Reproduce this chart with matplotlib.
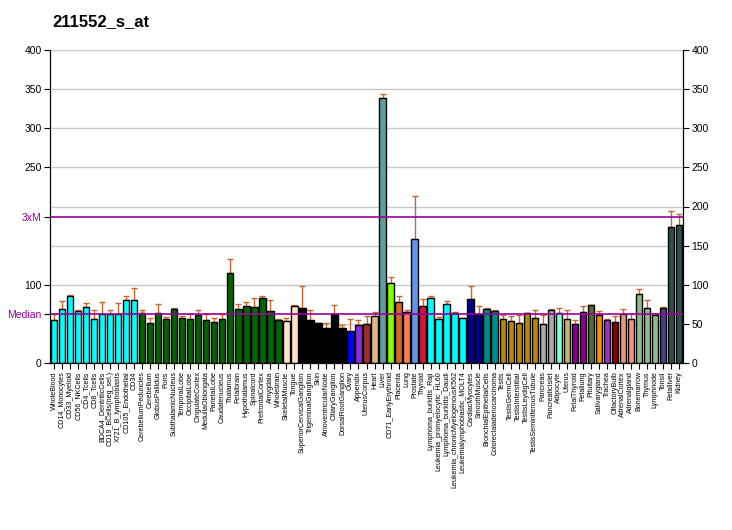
import matplotlib
matplotlib.use("Agg")
import matplotlib.pyplot as plt
from matplotlib import font_manager
import numpy as np

title = "211552_s_at"

labels = ["WholeBlood", "CD14_Monocytes", "CD33_Myeloid", "CD56_NKCells", "CD4_Tcells",
          "CD8_Tcells", "BDCA4_DentriticCells", "CD19_BCells(neg_sel.)", "X721_B_lymphoblasts",
          "CD105_Endothelial", "CD34", "CerebellumPeduncles", "Cerebellum", "GlobusPallidus",
          "Pons", "SubthalamicNucleus", "TemporalLobe", "OccipitalLobe", "CingulateCortex",
          "MedullaOblongata", "ParietalLobe", "Caudatenucleus", "Thalamus", "Fetalbrain",
          "Hypothalamus", "Spinalcord", "PrefrontalCortex", "Amygdala", "Wholebrain",
          "SkeletalMuscle", "Tongue", "SuperiorCervicalGanglion", "TrigeminalGanglion", "Skin",
          "AtrioventricularNode", "CiliaryGanglion", "DorsalRootGanglion", "Ovary", "Appendix",
          "UterusCorpus", "Heart", "Liver", "CD71_EarlyErythroid", "Placenta", "Lung",
          "Prostate", "Thyroid", "Lymphoma_burkitts_Raji", "Leukemia_promyelocytic_HL60",
          "Lymphoma_burkitts_Daudi", "Leukemia_chronicMyelogenousK562",
          "Leukemialymphoblastic_MOLT4", "CardiacMyocytes", "SmoothMuscle",
          "BronchialEpithelialCells", "Colorectaladenocarcinoma", "Testis", "TestisGermCell",
          "TestisInterstitial", "TestisLeydigCell", "TestisSeminiferousTubule", "Pancreas",
          "PancreaticIslet", "Adipocyte", "Uterus", "FetalThyroid", "Fetallung", "Pituitary",
          "Salivarygland", "Trachea", "OlfactoryBulb", "AdrenalCortex", "Adrenalgland",
          "Bonemarrow", "Thymus", "Lymphnode", "Tonsil", "Fetalliver", "Kidney"]

values = [54.5, 68.6, 85.6, 66.0, 71.2, 55.8, 62.2, 62.2, 62.2, 80.1, 80.1,
          63.5, 50.7, 63.5, 55.8, 68.6, 57.1, 55.8, 61.0, 54.5, 52.0, 55.8, 114.6, 68.6,
          72.4, 71.2, 82.7, 66.0, 54.5, 53.3, 72.4, 69.8, 54.5, 50.7, 44.3, 62.2, 44.3,
          40.5, 48.2, 49.4, 59.6, 338.3, 101.8, 77.5, 64.8, 158.0, 72.4, 82.7, 55.8, 75.0,
          63.5, 57.1, 81.4, 62.2, 68.6, 66.0, 55.8, 53.3, 50.7, 63.5, 57.1, 49.4, 67.3,
          63.5, 55.8, 49.4, 64.8, 73.7, 61.0, 54.5, 52.0, 62.2, 55.8, 87.8, 69.8, 61.0,
          69.8, 173.8, 176.0]

err_top = [62.0, 78.8, 86.5, 67.3, 76.3, 67.3, 77.5, 67.3, 76.3, 85.2, 95.4,
           67.3, 57.1, 75.0, 58.3, 69.8, 60.0, 62.0, 67.3, 62.0, 58.0, 62.0, 133.0, 75.0,
           77.5, 82.7, 85.2, 80.1, 55.8, 57.1, 73.7, 98.0, 67.3, 50.7, 50.7, 73.7, 48.2,
           55.8, 54.5, 59.6, 64.8, 343.4, 109.5, 85.2, 67.3, 214.0, 81.4, 85.2, 58.3, 78.8,
           64.8, 57.1, 98.0, 72.4, 69.8, 67.3, 61.0, 59.6, 61.0, 63.5, 67.3, 61.0, 68.6,
           69.8, 67.3, 54.5, 72.4, 73.7, 66.0, 55.8, 59.6, 68.6, 62.0, 94.2, 80.1, 63.5,
           71.2, 193.9, 190.0]

colors = (["#00FFFF"] * 11 + ["#006400"] * 18 + ["#FFE4C4"] * 2 + ["#000000"] * 6 +
          ["#0000FF", "#8A2BE2", "#A52A2A", "#DEB887", "#5F9EA0", "#7FFF00", "#D2691E",
           "#FF7F50", "#6495ED", "#DC143C"] + ["#00FFFF"] * 5 + ["#00008B"] * 2 +
          ["#008B8B"] * 2 + ["#B8860B"] * 5 + ["#A9A9A9"] * 2 +
          ["#7FFFD4", "#BDB76B", "#8B008B", "#8B008B", "#556B2F", "#FF8C00", "#9932CC",
           "#8B0000", "#E9967A", "#E9967A"] + ["#8FBC8F"] * 3 + ["#483D8B"] +
          ["#2F4F4F"] * 2)

median_val = 62.2
threexm_val = 3 * median_val

available = {f.name for f in font_manager.fontManager.ttflist}
if "Liberation Sans Narrow" in available:
    label_family, label_size = "Liberation Sans Narrow", 6.2
else:
    label_family, label_size = "Liberation Sans", 5.1

fig = plt.figure(figsize=(7.32, 5.30), dpi=100)
ax = fig.add_axes([50 / 732, 167 / 530, 633 / 732, 313 / 530])

x = np.arange(1, len(values) + 1)
vals = np.array(values)
errs = np.array(err_top) - vals
errs = np.clip(errs, 0, None)

for yv in range(50, 401, 50):
    ax.axhline(yv, color="#C8C8C8", lw=1, zorder=0)

ax.bar(x, vals, width=0.8, color=colors, edgecolor="black", linewidth=1, zorder=2)
ax.errorbar(x, vals, yerr=[np.zeros_like(errs), errs], fmt="none", ecolor="#C8662E",
            elinewidth=1, capsize=2.5, capthick=1, zorder=1)

ax.axhline(median_val, color="#990099", lw=1.2, zorder=3)
ax.axhline(threexm_val, color="#990099", lw=1.2, zorder=3)

ax.set_xlim(0.5, len(values) + 0.5)
ax.set_ylim(0, 400)
ax.set_xticks(x)
ax.set_xticklabels(labels, rotation=90, fontsize=label_size, family=label_family)
ax.tick_params(axis="x", length=4, pad=2)

lt = [0, median_val, 100, threexm_val, 250, 300, 350, 400]
ltl = ["0", "Median", "100", "3xM", "250", "300", "350", "400"]
ax.set_yticks(lt)
ax.set_yticklabels(ltl, fontsize=7.5, family="Liberation Sans")
for t, s in zip(ax.get_yticklabels(), ltl):
    if s in ("Median", "3xM"):
        t.set_color("#990099")
ax.tick_params(axis="y", length=4, pad=2)

ax2 = ax.twinx()
ax2.set_ylim(0, 400)
ax2.set_yticks(range(0, 401, 50))
ax2.set_yticklabels([str(v) for v in range(0, 401, 50)], fontsize=7.5, family="Liberation Sans")
ax2.tick_params(axis="y", length=4, pad=2)

for a in (ax, ax2):
    a.spines["top"].set_visible(False)

fig.text(52 / 732, 1 - 22 / 530, title, fontsize=12, fontweight="bold",
         family="Liberation Sans", va="center", ha="left")

fig.savefig("out.png", dpi=100)
